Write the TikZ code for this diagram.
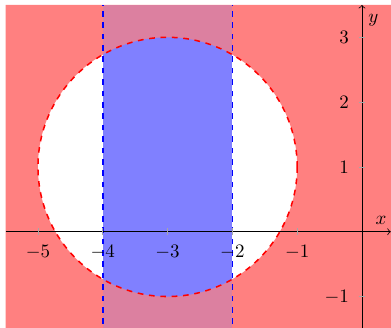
\documentclass[tikz,border=0pt]{standalone}
\begin{document}
\begin{tikzpicture}[x=1.2cm,y=1.2cm,
  tickmark/.style={gray!70, line width=0.4pt},
  ticklab/.style={inner sep=0pt},
  axisline/.style={black, line width=0.4pt, ->}]
\definecolor{regred}{RGB}{255,128,128}
\definecolor{regblue}{RGB}{128,128,255}
\definecolor{regmix}{RGB}{220,128,160}
\useasboundingbox (-5.586,-1.471) rectangle (0.448,3.576);
% regions
\fill[regred, even odd rule] (-5.5,-1.6) rectangle (0.6,3.5) (-3,1) circle (2);
\fill[regmix] (-4,-1.6) rectangle (-2,3.5);
\begin{scope}
  \clip (-3,1) circle (2);
  \fill[regblue] (-4,-1.6) rectangle (-2,3.5);
\end{scope}
% boundaries
\coordinate (c) at (-3,1);
\draw[red, dashed, thick] (c) circle (2);
\coordinate (l1) at (-4,-1.6); \coordinate (l2) at (-4,3.5);
\coordinate (r1) at (-2,-1.6); \coordinate (r2) at (-2,3.5);
\draw[blue, dashed, thick] (l1) -- (l2);
\draw[blue, dashed, thick] (r1) -- (r2);
% axes
\coordinate (xs) at (-5.5,0); \coordinate (xe) at (0.445,0);
\coordinate (ys) at (0,-1.6); \coordinate (ye) at (0,3.5);
\draw[axisline] (xs) -- (xe);
\draw[axisline] (ys) -- (ye);
\foreach \t in {-5,-4,-3,-2,-1}{
  \draw[tickmark] (\t,-0.05) -- (\t,0.05);
  \node[ticklab, anchor=base] (xl\t) at (\t,-0.39) {$\t$};
}
\foreach \t in {-1,1,2,3}{
  \draw[tickmark] (-0.05,\t) -- (0.05,\t);
  \node[ticklab, anchor=base east] (yl\t) at (-0.196,\t-0.095) {$\t$};
}
\node[ticklab, anchor=base] (xlab) at (0.293,0.114) {$x$};
\node[ticklab, anchor=base] (ylab) at (0.177,3.23) {$y$};
\end{tikzpicture}
\end{document}
